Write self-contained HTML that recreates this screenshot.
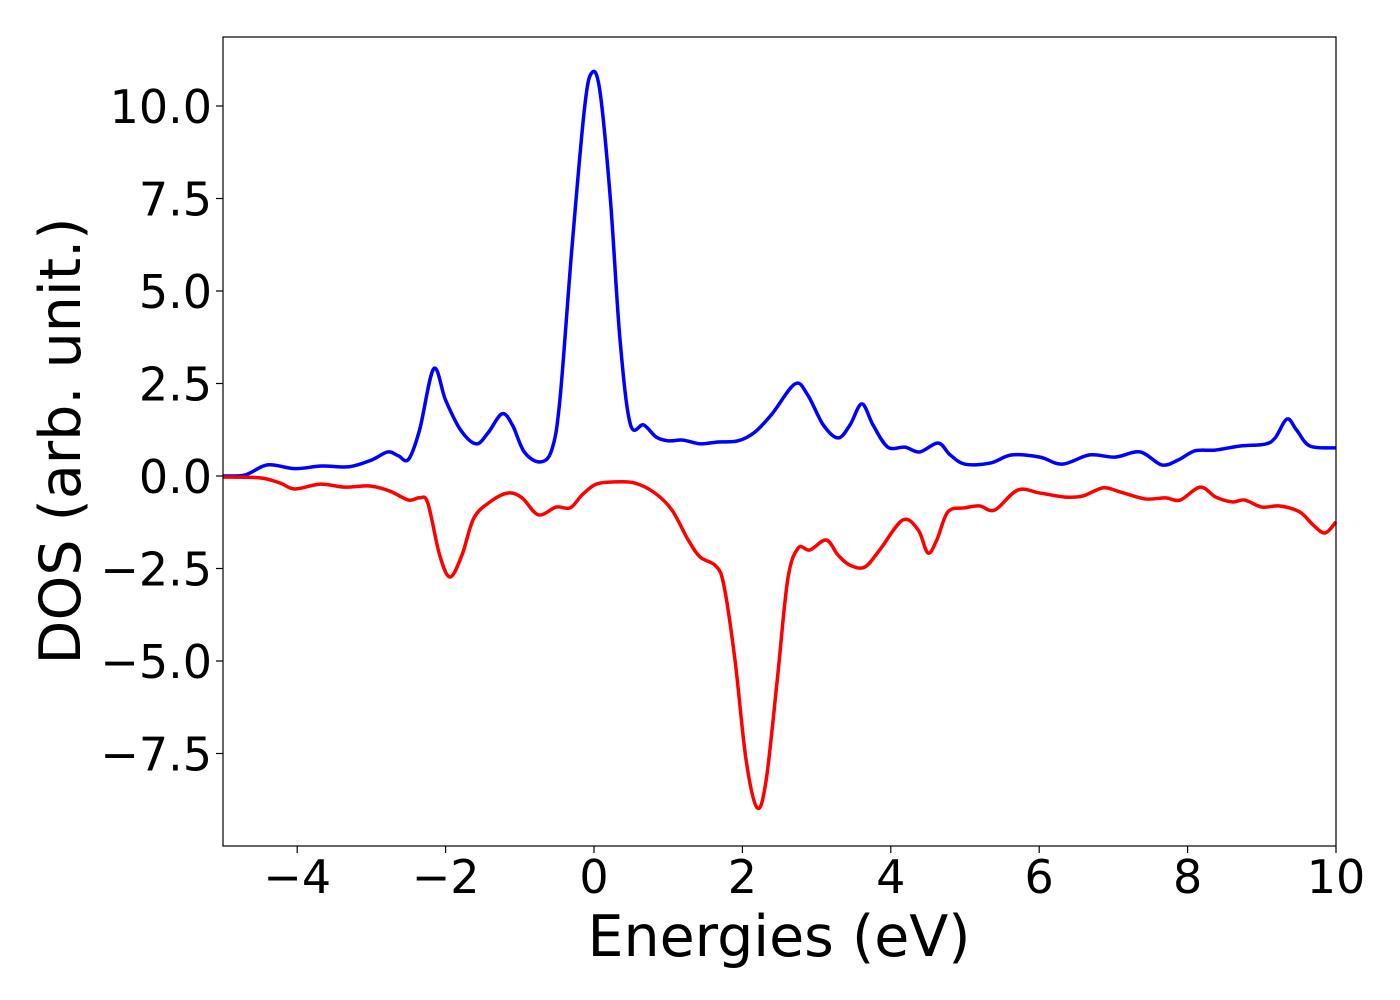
<!DOCTYPE html>
<html><head><meta charset="utf-8"><style>
html,body{margin:0;padding:0;background:#fff;}
svg{display:block;font-family:"DejaVu Sans","Liberation Sans",sans-serif;}
</style></head><body>
<svg id="chart" width="1400" height="1000" viewBox="0 0 1400 1000" xmlns="http://www.w3.org/2000/svg">
<rect width="1400" height="1000" fill="#fff"/>
<g id="plot"></g>
<rect x="223" y="37" width="1113" height="809" fill="none" stroke="#000" stroke-width="1.2"/>
<g id="xticks"></g><g id="yticks"></g>
<text x="779" y="956" font-size="57" text-anchor="middle">Energies (eV)</text>
<text transform="translate(80,441) rotate(-90)" font-size="57" text-anchor="middle">DOS (arb. unit.)</text>
</svg>
<script>
const xTicks=[-4,-2,0,2,4,6,8,10];
const yTicks=[-7.5,-5,-2.5,0,2.5,5,7.5,10];
const upX=[-5,-4.7,-4.4,-4.03,-3.67,-3.3,-3.0,-2.78,-2.64,-2.5,-2.35,-2.16,-2.0,-1.8,-1.59,-1.43,-1.24,-1.1,-0.94,-0.73,-0.57,-0.46,-0.3,-0.13,-0.03,0.08,0.22,0.35,0.49,0.67,0.84,1.0,1.2,1.43,1.67,1.94,2.17,2.4,2.71,2.88,3.09,3.29,3.45,3.61,3.76,3.96,4.19,4.39,4.64,4.8,5.0,5.34,5.63,6.01,6.31,6.68,7.02,7.36,7.65,7.87,8.1,8.37,8.71,9.04,9.18,9.34,9.47,9.65,10];
const upY=[0,0.03,0.3,0.2,0.27,0.25,0.43,0.65,0.55,0.45,1.25,2.9,2.05,1.25,0.87,1.16,1.68,1.38,0.65,0.38,0.7,2.05,6.1,9.9,10.9,10.4,7.5,3.7,1.4,1.38,1.05,0.95,0.97,0.87,0.92,0.95,1.19,1.68,2.49,2.19,1.38,1.03,1.38,1.95,1.38,0.78,0.78,0.65,0.89,0.57,0.32,0.35,0.57,0.51,0.32,0.57,0.51,0.65,0.3,0.43,0.68,0.7,0.81,0.86,1.03,1.54,1.24,0.81,0.76];
const dnX=[-5,-4.5,-4.23,-4.03,-3.69,-3.36,-3.02,-2.75,-2.5,-2.35,-2.24,-2.08,-1.94,-1.78,-1.62,-1.4,-1.16,-0.97,-0.75,-0.51,-0.32,-0.16,0.03,0.28,0.55,0.82,1.05,1.27,1.43,1.64,1.75,1.9,2.05,2.2,2.32,2.47,2.61,2.75,2.91,3.13,3.29,3.45,3.65,3.85,4.16,4.37,4.5,4.62,4.77,5.0,5.2,5.4,5.71,6.01,6.35,6.59,6.86,7.09,7.43,7.7,7.9,8.17,8.38,8.6,8.77,9.0,9.24,9.51,9.69,9.85,10];
const dnY=[-0.03,-0.05,-0.19,-0.35,-0.22,-0.3,-0.27,-0.41,-0.65,-0.59,-0.73,-2.14,-2.73,-2.14,-1.14,-0.7,-0.46,-0.59,-1.05,-0.84,-0.86,-0.51,-0.22,-0.16,-0.19,-0.46,-0.92,-1.73,-2.19,-2.43,-2.95,-4.97,-7.68,-8.97,-8.22,-5.51,-2.81,-1.95,-2.0,-1.73,-2.14,-2.41,-2.46,-2.0,-1.19,-1.46,-2.08,-1.73,-0.97,-0.86,-0.81,-0.92,-0.38,-0.46,-0.57,-0.54,-0.32,-0.43,-0.62,-0.59,-0.65,-0.3,-0.57,-0.7,-0.65,-0.84,-0.81,-0.97,-1.32,-1.54,-1.24];
const X0=223,X1=1336,Y0=37,Y1=846,xmin=-5,xmax=10,ymin=-10,ymax=11.865;
const sx=v=>X0+(v-xmin)/(xmax-xmin)*(X1-X0);
const sy=v=>Y1-(v-ymin)/(ymax-ymin)*(Y1-Y0);
const NS="http://www.w3.org/2000/svg";
function smooth(xs,ys){
  const p=xs.map((x,i)=>[sx(x),sy(ys[i])]);
  let d="M"+p[0][0]+","+p[0][1];
  for(let i=0;i<p.length-1;i++){
    const a=p[i-1]||p[i],b=p[i],c=p[i+1],e=p[i+2]||c;
    const c1=[b[0]+(c[0]-a[0])/6,b[1]+(c[1]-a[1])/6],c2=[c[0]-(e[0]-b[0])/6,c[1]-(e[1]-b[1])/6];
    d+=" C"+c1+" "+c2+" "+c;
  }
  return d;
}
const plot=document.getElementById("plot");
const up=document.createElementNS(NS,"path");


up.setAttribute("d",smooth(upX,upY));up.setAttribute("fill","none");up.setAttribute("stroke","#0000ff");up.setAttribute("stroke-width","3.5");
plot.appendChild(up);
const dn=document.createElementNS(NS,"path");


dn.setAttribute("d",smooth(dnX,dnY));dn.setAttribute("fill","none");dn.setAttribute("stroke","#ff0000");dn.setAttribute("stroke-width","3.5");
plot.appendChild(dn);
const fmtNeg=s=>s.replace("-","\u2212");
const xg=document.getElementById("xticks");
xTicks.forEach(t=>{
  const l=document.createElementNS(NS,"line");
  
  
  l.setAttribute("x1",sx(t));l.setAttribute("x2",sx(t));l.setAttribute("y1",Y1);l.setAttribute("y2",Y1+7);l.setAttribute("stroke","#000");l.setAttribute("stroke-width","1.2");
  xg.appendChild(l);
  const tx=document.createElementNS(NS,"text");
  
  
  tx.setAttribute("x",sx(t));tx.setAttribute("y",893);tx.setAttribute("font-size","46");tx.setAttribute("text-anchor","middle");
  tx.textContent=fmtNeg(String(t));xg.appendChild(tx);
});
const yg=document.getElementById("yticks");
yTicks.forEach(t=>{
  const l=document.createElementNS(NS,"line");
  
  
  l.setAttribute("x1",X0-7);l.setAttribute("x2",X0);l.setAttribute("y1",sy(t));l.setAttribute("y2",sy(t));l.setAttribute("stroke","#000");l.setAttribute("stroke-width","1.2");
  yg.appendChild(l);
  const tx=document.createElementNS(NS,"text");
  
  
  tx.setAttribute("x",212);tx.setAttribute("y",sy(t)+17);tx.setAttribute("font-size","46");tx.setAttribute("text-anchor","end");
  tx.textContent=fmtNeg(t.toFixed(1));yg.appendChild(tx);
});
</script>
</body></html>
